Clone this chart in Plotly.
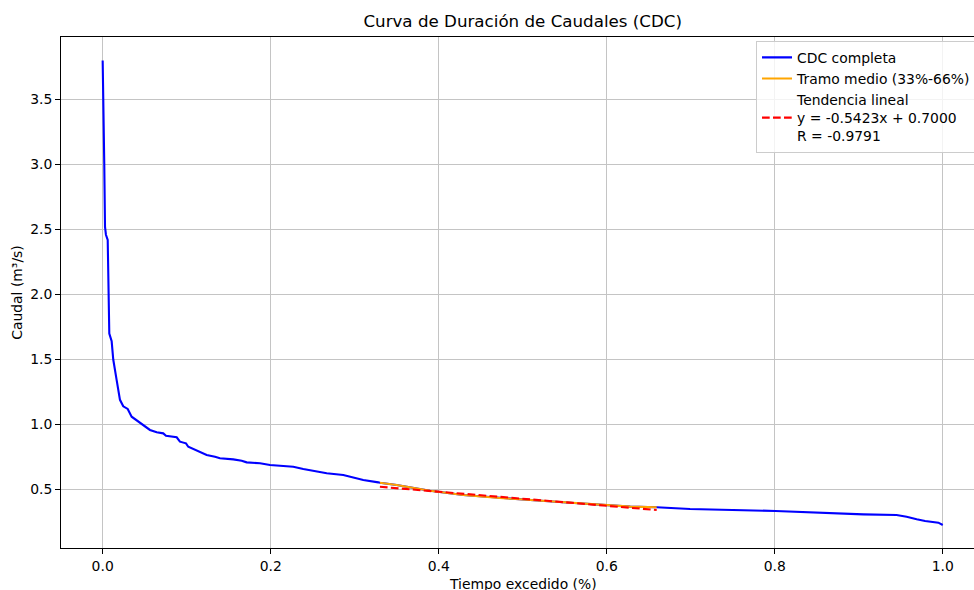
import plotly.graph_objects as go

# ---- data ----
tiempo_excedido = [
    0.0, 0.0012, 0.0019, 0.0028, 0.0039, 0.0060, 0.0067, 0.0079, 0.0107, 0.0126,
    0.0167, 0.0206, 0.0245, 0.0298, 0.0345, 0.0424, 0.0504, 0.0563, 0.0643, 0.0721,
    0.0754, 0.0881, 0.0920, 0.0992, 0.1019, 0.1138, 0.1238, 0.1337, 0.1396, 0.1555,
    0.1655, 0.1714, 0.1873, 0.1992, 0.2269, 0.2388, 0.2548, 0.2667, 0.2864, 0.2983,
    0.3102, 0.3281,
    0.3300, 0.3500, 0.3896, 0.4293, 0.4690, 0.5090, 0.5480, 0.5880, 0.6280, 0.6595,
    0.6992, 0.8010, 0.8655, 0.9055, 0.9450, 0.9570, 0.9690, 0.9790, 0.9948, 1.0,
]
caudal = [
    3.80, 3.44, 3.01, 2.52, 2.46, 2.42, 2.06, 1.70, 1.64, 1.50,
    1.34, 1.19, 1.14, 1.12, 1.06, 1.022, 0.988, 0.958, 0.940, 0.932,
    0.914, 0.902, 0.868, 0.855, 0.829, 0.791, 0.765, 0.752, 0.740, 0.732,
    0.722, 0.709, 0.702, 0.688, 0.675, 0.658, 0.637, 0.625, 0.612, 0.591,
    0.573, 0.555,
    0.552, 0.535, 0.491, 0.458, 0.437, 0.419, 0.402, 0.386, 0.368, 0.363,
    0.350, 0.335, 0.317, 0.309, 0.304, 0.291, 0.271, 0.258, 0.245, 0.227,
]
tramo_inicio = 0.33
tramo_fin = 0.66
pendiente = -0.5423
intercepto = 0.7000
r_coef = -0.9791

x_ticks = [0.0, 0.2, 0.4, 0.6, 0.8, 1.0]
y_ticks = [0.5, 1.0, 1.5, 2.0, 2.5, 3.0, 3.5]

# ---- derived series ----
tramo_x = [x for x in tiempo_excedido if tramo_inicio <= x <= tramo_fin]
tramo_y = [y for x, y in zip(tiempo_excedido, caudal) if tramo_inicio <= x <= tramo_fin]
trend_x = [min(tramo_x), max(tramo_x)]
trend_y = [pendiente * x + intercepto for x in trend_x]

FONT = "DejaVu Sans"

fig = go.Figure()
fig.add_trace(go.Scatter(
    x=tiempo_excedido, y=caudal, mode="lines", name="CDC completa",
    line=dict(color="#0000ff", width=2.1),
))
fig.add_trace(go.Scatter(
    x=tramo_x, y=tramo_y, mode="lines", name="Tramo medio (33%-66%)",
    line=dict(color="#ffa500", width=2.1),
))
fig.add_trace(go.Scatter(
    x=trend_x, y=trend_y, mode="lines",
    name=f"Tendencia lineal<br>y = {pendiente:.4f}x + {intercepto:.4f}<br>R = {r_coef:.4f}",
    line=dict(color="#ff0000", width=2.1, dash="7.7px,3.3px"),
))

fig.update_layout(
    width=974, height=590,
    margin=dict(l=61, r=0, t=37, b=42, autoexpand=False),
    paper_bgcolor="white", plot_bgcolor="white",
    font=dict(family=FONT, size=13.9, color="black"),
    title=dict(
        text="Curva de Duración de Caudales (CDC)",
        x=0.5057, xref="paper", xanchor="center",
        y=1 - 21 / 590, yref="container", yanchor="middle",
        font=dict(family=FONT, size=16.7, color="black"),
    ),
    legend=dict(
        x=1.0033, xanchor="right", y=0.9925, yanchor="top",
        bgcolor="rgba(255,255,255,0.8)", bordercolor="#cccccc", borderwidth=1,
        font=dict(family=FONT, size=13.9, color="black"),
        tracegroupgap=0,
    ),
    showlegend=True,
    annotations=[dict(
        text="Tiempo excedido (%)", xref="paper", yref="paper",
        x=0.5057, y=-(584 - 548) / 511, xanchor="center", yanchor="middle",
        showarrow=False, font=dict(family=FONT, size=13.9, color="black"),
    )],
)
fig.update_xaxes(
    range=[-0.0496, 1.0372], tickvals=x_ticks, ticktext=[f"{v:.1f}" for v in x_ticks],
    showgrid=True, gridcolor="#c4c4c4", gridwidth=1, zeroline=False,
    showline=True, linecolor="black", linewidth=1, mirror=True,
    ticks="outside", ticklen=5, tickwidth=1, tickcolor="black",
    automargin=False,
)
fig.update_yaxes(
    range=[0.05, 3.981], tickvals=y_ticks, ticktext=[f"{v:.1f}" for v in y_ticks],
    showgrid=True, gridcolor="#c4c4c4", gridwidth=1, zeroline=False,
    showline=True, linecolor="black", linewidth=1, mirror=False,
    ticks="outside", ticklen=5, tickwidth=1, tickcolor="black",
    title=dict(text="Caudal (m³/s)", standoff=4, font=dict(family=FONT, size=13.9)),
    automargin=False,
)

fig.write_html("out.html")
